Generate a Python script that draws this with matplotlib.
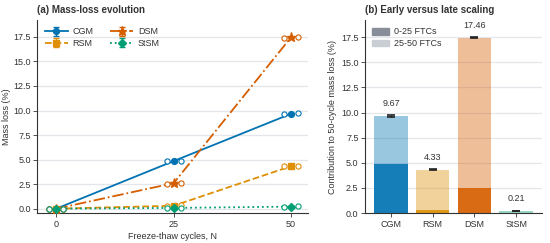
import numpy as np
import matplotlib
matplotlib.use('Agg')
import matplotlib.pyplot as plt
from matplotlib.patches import Patch

# data
cycles = [0, 25, 50]
mixes = ['CGM', 'RSM', 'DSM', 'StSM']
mean_loss = {
    'CGM': [0.0, 4.85, 9.67],
    'RSM': [0.0, 0.30, 4.33],
    'DSM': [0.0, 2.60, 17.46],
    'StSM': [0.0, 0.08, 0.21],
}
err_loss = {
    'CGM': [0.02, 0.08, 0.06],
    'RSM': [0.02, 0.05, 0.05],
    'DSM': [0.02, 0.08, 0.06],
    'StSM': [0.01, 0.02, 0.03],
}
# individual replicates (hollow circles)
rep_loss = {
    'CGM': [[0.0, 0.0], [4.82, 4.88], [9.63, 9.71]],
    'RSM': [[0.0, 0.0], [0.27, 0.33], [4.30, 4.36]],
    'DSM': [[0.0, 0.0], [2.55, 2.65], [17.42, 17.50]],
    'StSM': [[0.0, 0.0], [0.07, 0.09], [0.19, 0.23]],
}
early = [4.85, 0.30, 2.45, 0.05]   # 0-25 FTCs
late = [4.82, 4.03, 15.01, 0.16]   # 25-50 FTCs
totals = [9.67, 4.33, 17.46, 0.21]
total_err = [0.06, 0.05, 0.06, 0.03]

colors = {'CGM': '#0173b2', 'RSM': '#de8f05', 'DSM': '#d55e00', 'StSM': '#029e73'}
markers = {'CGM': 'o', 'RSM': 's', 'DSM': '*', 'StSM': 'D'}
styles = {'CGM': '-', 'RSM': '--', 'DSM': '-.', 'StSM': ':'}

plt.rcParams['font.family'] = ['Liberation Sans', 'DejaVu Sans']
plt.rcParams['text.color'] = '#333333'
plt.rcParams['axes.labelcolor'] = '#333333'
plt.rcParams['xtick.color'] = '#333333'
plt.rcParams['ytick.color'] = '#333333'

fs = 6.5

fig = plt.figure(figsize=(5.5, 2.43), dpi=100)
ax1 = fig.add_axes([0.068, 0.123, 0.492, 0.794])
ax2 = fig.add_axes([0.664, 0.123, 0.322, 0.794])

for ax in (ax1, ax2):
    ax.spines['top'].set_visible(False)
    ax.spines['right'].set_visible(False)
    ax.spines['left'].set_color('#333333')
    ax.spines['bottom'].set_color('#333333')
    ax.grid(axis='y', color='#e3e7ec', linewidth=0.9)
    ax.set_axisbelow(True)
    ax.tick_params(labelsize=fs, length=3, width=0.6, pad=1.8)

# (a) mass-loss evolution
for m in mixes:
    c = colors[m]
    ax1.errorbar(cycles, mean_loss[m], yerr=err_loss[m], color=c, marker=markers[m],
                 linestyle=styles[m], linewidth=1.3, markersize=6.5 if m == 'DSM' else 4.2,
                 capsize=2.5, elinewidth=1, label=m, zorder=3)
    for x, reps in zip(cycles, rep_loss[m]):
        ax1.scatter([x - 1.5, x + 1.5], reps, s=14, facecolors='white', edgecolors=c,
                    linewidths=0.8, zorder=4)

ax1.set_xlim(-4, 53.6)
ax1.set_ylim(-0.45, 19.2)
ax1.set_xticks(cycles)
ax1.set_yticks(np.arange(0, 17.6, 2.5))
ax1.set_xlabel('Freeze-thaw cycles, N', fontsize=fs, labelpad=2)
ax1.set_ylabel('Mass loss (%)', fontsize=fs, labelpad=1.5)
ax1.set_title('(a) Mass-loss evolution', loc='left', fontsize=7, fontweight='bold', pad=5)
ax1.legend(ncol=2, loc='upper left', fontsize=fs, frameon=False, handlelength=2.6,
           handletextpad=0.5, columnspacing=1.8, borderaxespad=0.4, labelspacing=0.3)

# (b) early versus late scaling
xpos = np.arange(len(mixes))
for i, m in enumerate(mixes):
    c = colors[m]
    ax2.bar(xpos[i], early[i], width=0.8, color=c, alpha=0.92, zorder=2)
    ax2.bar(xpos[i], late[i], bottom=early[i], width=0.8, color=c, alpha=0.4,
            linewidth=0, zorder=2)
    ax2.errorbar(xpos[i], totals[i], yerr=total_err[i], color='#222222', capsize=3,
                 elinewidth=1, capthick=1.2, zorder=3)
    ax2.text(xpos[i], totals[i] + 0.8, f'{totals[i]:.2f}', ha='center', va='bottom',
             fontsize=fs)

ax2.set_xlim(-0.62, 3.63)
ax2.set_ylim(0, 19.2)
ax2.set_xticks(xpos)
ax2.set_xticklabels(mixes)
ax2.set_yticks(np.arange(0, 17.6, 2.5))
ax2.set_ylabel('Contribution to 50-cycle mass loss (%)', fontsize=fs, labelpad=3)
ax2.set_title('(b) Early versus late scaling', loc='left', fontsize=7, fontweight='bold', pad=5)
handles = [Patch(color='#878e99', label='0-25 FTCs'), Patch(color='#c9ced5', label='25-50 FTCs')]
ax2.legend(handles=handles, loc='upper left', fontsize=fs, frameon=False,
           handlelength=1.8, handleheight=0.8, handletextpad=0.6, borderaxespad=0.4,
           labelspacing=0.3)

fig.savefig('out.png', dpi=100)
